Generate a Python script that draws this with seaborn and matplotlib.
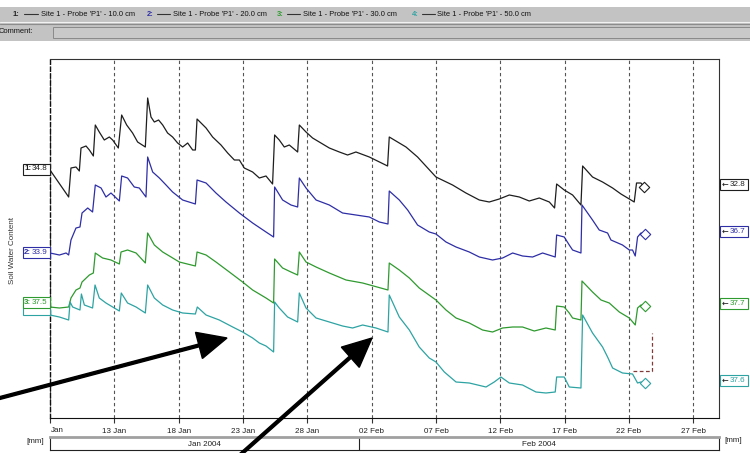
import numpy as np
import pandas as pd
import matplotlib
matplotlib.use("Agg")
import matplotlib.pyplot as plt
import matplotlib.dates as mdates
from matplotlib.patches import Rectangle, FancyArrow
from matplotlib.lines import Line2D
from matplotlib.transforms import IdentityTransform
import seaborn as sns

# ------------------------------------------------------------------ data
START = pd.Timestamp("2004-01-01")          # day 0

series_names = ["Site 1 - Probe 'P1' - 10.0 cm", "Site 1 - Probe 'P1' - 20.0 cm",
                "Site 1 - Probe 'P1' - 30.0 cm", "Site 1 - Probe 'P1' - 50.0 cm"]

# day offsets from START and display levels (relative chart units)
t1 = [7.00, 8.45, 8.63, 9.02, 9.28, 9.41, 9.80, 10.06, 10.37, 10.52, 10.83, 11.22, 11.61, 11.87,
      12.31, 12.57, 12.96, 13.42, 13.81, 14.41, 14.59, 14.85, 15.11, 15.44, 15.76, 16.14, 16.53,
      16.92, 17.31, 17.70, 18.09, 18.30, 18.43, 19.13, 19.64, 20.29, 20.81, 21.33, 21.72, 22.10,
      22.75, 23.27, 23.79, 24.30, 24.46, 24.82, 25.21, 25.60, 26.25, 26.38, 26.90, 27.41, 28.19,
      28.71, 29.49, 30.13, 30.78, 31.82, 33.24, 33.37, 34.67, 35.57, 37.00, 38.29, 39.33, 40.37,
      41.14, 41.92, 42.70, 43.48, 44.25, 45.03, 45.81, 46.22, 46.38, 46.97, 47.62, 48.27, 48.40,
      49.17, 49.95, 50.73, 51.38, 52.03, 52.41, 52.59, 52.93, 53.19]
v1 = [248, 221, 250, 251, 247, 270, 272, 268, 262, 293, 286, 278, 281, 278, 270, 303, 293, 285,
      276, 271, 320, 301, 296, 298, 293, 285, 281, 275, 271, 275, 268, 268, 299, 290, 281, 273,
      265, 258, 258, 250, 246, 240, 242, 234, 283, 278, 271, 273, 266, 293, 286, 280, 274, 270,
      266, 263, 266, 261, 252, 281, 271, 261, 241, 233, 225, 218, 216, 219, 223, 221, 217, 220,
      216, 210, 234, 228, 223, 213, 252, 241, 236, 230, 224, 219, 216, 235, 235, 231]

t2 = [7.00, 7.73, 8.25, 8.45, 8.63, 9.02, 9.33, 9.49, 9.93, 10.31, 10.52, 10.97, 11.35, 11.74,
      12.39, 12.57, 13.03, 13.55, 13.94, 14.46, 14.59, 14.98, 15.50, 16.02, 16.53, 17.31, 18.30,
      18.43, 19.13, 19.90, 20.68, 21.72, 22.75, 23.79, 24.38, 24.46, 25.08, 25.73, 26.25, 26.38,
      26.90, 27.68, 28.71, 29.74, 30.78, 31.82, 32.60, 33.27, 33.37, 34.15, 34.80, 35.57, 36.48,
      37.00, 37.78, 38.56, 39.59, 40.37, 41.40, 42.18, 42.96, 43.73, 44.51, 45.29, 46.27, 46.38,
      46.97, 47.36, 47.62, 48.27, 48.35, 49.17, 49.69, 50.34, 50.60, 51.50, 52.03, 52.28, 52.49,
      52.67, 52.93, 53.27]
v2 = [165, 163, 165, 163, 178, 190, 191, 205, 210, 206, 233, 230, 221, 225, 217, 242, 240, 231,
      230, 221, 261, 246, 240, 233, 226, 218, 214, 238, 235, 225, 216, 205, 195, 186, 181, 231,
      218, 213, 211, 240, 230, 218, 213, 205, 203, 201, 196, 194, 227, 218, 208, 193, 186, 184,
      176, 171, 166, 161, 158, 160, 165, 162, 161, 165, 161, 183, 181, 173, 168, 165, 213, 198,
      188, 185, 178, 173, 168, 168, 162, 181, 185, 184]

t3 = [7.00, 7.73, 8.45, 8.63, 9.02, 9.33, 9.49, 10.06, 10.37, 10.52, 11.09, 11.74, 12.39, 12.52,
      13.03, 13.69, 14.41, 14.59, 15.11, 15.76, 16.41, 17.05, 18.30, 18.43, 19.13, 19.90, 20.94,
      21.97, 22.75, 23.79, 24.38, 24.46, 25.08, 25.73, 26.25, 26.38, 26.90, 27.68, 28.71, 30.01,
      31.30, 33.27, 33.37, 34.15, 34.93, 35.70, 37.00, 37.78, 38.56, 39.59, 40.62, 41.40, 42.18,
      42.96, 43.73, 44.64, 45.55, 46.27, 46.38, 46.97, 47.36, 47.62, 48.27, 48.35, 49.17, 49.83,
      50.47, 51.25, 52.03, 52.49, 52.67, 52.93, 53.27]
v3 = [111, 110, 111, 120, 128, 130, 136, 143, 145, 165, 160, 158, 154, 166, 168, 165, 155, 185,
      173, 166, 161, 156, 152, 166, 163, 156, 146, 136, 128, 120, 115, 159, 150, 146, 143, 166,
      156, 151, 145, 138, 135, 128, 155, 148, 140, 130, 118, 108, 100, 95, 88, 86, 90, 91, 91,
      87, 90, 88, 112, 111, 105, 100, 98, 137, 126, 118, 115, 106, 100, 93, 110, 113, 112]

t4 = [7.00, 7.73, 8.45, 8.56, 8.76, 9.33, 9.44, 9.67, 10.31, 10.50, 10.83, 11.35, 12.39, 12.54,
      13.03, 13.69, 14.41, 14.59, 15.11, 15.76, 16.53, 17.31, 18.30, 18.45, 19.13, 20.16, 21.20,
      21.97, 22.75, 23.27, 23.79, 24.38, 24.46, 24.82, 25.47, 26.25, 26.38, 26.90, 27.68, 28.71,
      29.74, 30.52, 31.30, 32.34, 33.27, 33.37, 34.15, 34.93, 35.70, 36.48, 37.00, 37.65, 38.56,
      39.59, 40.89, 41.53, 42.05, 42.70, 43.73, 44.77, 45.55, 46.27, 46.38, 46.97, 47.36, 48.27,
      48.40, 49.17, 49.95, 50.34, 50.73, 51.50, 52.28, 52.67, 52.93, 53.27]
v4 = [103, 101, 98, 116, 111, 108, 124, 113, 110, 133, 120, 115, 107, 125, 115, 111, 105, 133,
      120, 113, 108, 105, 104, 111, 103, 98, 91, 86, 80, 75, 72, 66, 116, 110, 101, 96, 125, 110,
      100, 96, 92, 90, 93, 90, 86, 123, 101, 88, 71, 60, 56, 46, 36, 35, 31, 36, 41, 35, 33, 26,
      25, 26, 41, 41, 31, 30, 103, 85, 71, 61, 50, 45, 44, 35, 36, 35]

start_labels = ["34.8", "33.9", "37.5", ""]
end_labels = ["32.8", "36.7", "37.7", "37.6"]

bracket_t = [52.34, 53.81, 53.81]
bracket_v = [47, 47, 85]

tick_days = [7, 12, 17, 22, 27, 32, 37, 42, 47, 52, 57]
tick_labels = ["", "13 Jan", "18 Jan", "23 Jan", "28 Jan", "02 Feb", "07 Feb",
               "12 Feb", "17 Feb", "22 Feb", "27 Feb"]
first_tick_label = "Jan"
month_edges = [7, 31, 59]
month_labels = ["Jan 2004", "Feb 2004"]

# ------------------------------------------------------------------ style
colors = ["#1e1e1e", "#2e2ea6", "#2f9a2f", "#2ea3a3"]
W, H = 750, 453
FS = 5.8
FS_LEG = 5.4

sns.set_style("white")
plt.rcParams["font.family"] = ["Liberation Sans", "DejaVu Sans"]
plt.rcParams["axes.linewidth"] = 0.8

IT = IdentityTransform()


def to_dates(days):
    return START + pd.to_timedelta(np.asarray(days, dtype=float), unit="D")


fig = plt.figure(figsize=(W / 100, H / 100), dpi=100)
fig.patch.set_facecolor("white")

ax = fig.add_axes([50 / W, (H - 418) / H, 669 / W, 359 / H])
ax_b = fig.add_axes([50 / W, (H - 450) / H, 669 / W, 13 / H], sharex=ax)

all_t = [t1, t2, t3, t4]
all_v = [v1, v2, v3, v4]
for t, v, c in zip(all_t, all_v, colors):
    df = pd.DataFrame({"date": to_dates(t), "value": v})
    sns.lineplot(data=df, x="date", y="value", color=c, lw=0.9, ax=ax,
                 estimator=None, sort=False)
    sns.scatterplot(x=df["date"].iloc[-1:], y=df["value"].iloc[-1:], marker="D", s=28,
                    color="white", edgecolor=c, linewidth=0.8, ax=ax, zorder=5)

ax.plot(to_dates(bracket_t), bracket_v, color="#803a3a", lw=0.9, ls=(0, (3, 2)))

ax.set_xlim(to_dates([month_edges[0]])[0], to_dates([month_edges[-1]])[0])
ax.set_ylim(0, 359)
ax.set_yticks([])
ax.set_xlabel("")
ax.set_ylabel("")
ax.set_xticks(to_dates(tick_days))
ax.set_xticklabels(tick_labels, fontsize=FS, color="#202020")
ax.tick_params(axis="x", length=3.5, width=0.8, color="#333333", pad=3.5, bottom=True)
ax.grid(axis="x", color="#555555", linestyle=(0, (3, 2.5)), lw=0.8)
ax.spines["left"].set_linestyle((0, (3, 2)))
ax.spines["left"].set_color("#111111")
ax.spines["left"].set_linewidth(1.0)
ax.spines["top"].set_color("#333333")
ax.spines["right"].set_color("#333333")
ax.spines["bottom"].set_color("#111111")
ax.set_facecolor("white")

# month band
ax_b.set_ylim(0, 1)
ax_b.tick_params(axis="both", which="both", bottom=False, labelbottom=False,
                 left=False, labelleft=False, top=False, right=False)
ax_b.grid(False)
ax_b.spines["top"].set_color("#a0a0a0")
ax_b.spines["top"].set_linewidth(2.0)
for s in ["left", "right", "bottom"]:
    ax_b.spines[s].set_color("#222222")
    ax_b.spines[s].set_linewidth(0.8)
mid_dates = to_dates(month_edges)
ax_b.axvline(mid_dates[1], color="#222222", lw=0.8)
for i, lab in enumerate(month_labels):
    m = mid_dates[i] + (mid_dates[i + 1] - mid_dates[i]) / 2
    ax_b.text(m, 0.45, lab, ha="center", va="center", fontsize=FS, color="#202020")

# first (clipped) tick label
fig.text(51, H - 431, first_tick_label, ha="left", va="center", fontsize=FS,
         color="#202020", transform=IT)

# axis texts
fig.text(13, H - 250, "Soil Water Content", rotation=90, ha="center", va="center",
         fontsize=FS, color="#333333", transform=IT)
fig.text(35, H - 441.5, "[mm]", ha="center", va="center", fontsize=FS, color="#202020", transform=IT)
fig.text(733, H - 440, "[mm]", ha="center", va="center", fontsize=FS, color="#202020", transform=IT)

fig.canvas.draw()


def disp_y(day, val):
    return ax.transData.transform((mdates.date2num(to_dates([day])[0]), val))[1]


# left start-value boxes (drawn back to front so the 4th sits beneath the 3rd)
left_dy = [1, 1, 5, 6]
for i in [3, 2, 1, 0]:
    yc = disp_y(all_t[i][0], all_v[i][0]) + left_dy[i]
    fig.add_artist(Rectangle((22.5, yc - 5.5), 27.5, 11, facecolor="white",
                             edgecolor=colors[i], lw=0.8, transform=IT, zorder=3))
    if start_labels[i]:
        fig.text(24, yc, f"{i + 1}:", ha="left", va="center", fontsize=FS, weight="bold",
                 color=colors[i], transform=IT, zorder=4)
        fig.text(31.5, yc, start_labels[i], ha="left", va="center", fontsize=FS,
                 color=colors[i], transform=IT, zorder=4)

# right end-value boxes
for i in range(4):
    yc = disp_y(all_t[i][-1], all_v[i][-1]) + 2.5
    fig.add_artist(Rectangle((720, yc - 5.5), 27.5, 11, facecolor="white",
                             edgecolor=colors[i], lw=0.8, transform=IT, zorder=3))
    fig.text(721.5, yc, "\u2190", ha="left", va="center", fontsize=FS, color="#111111",
             transform=IT, zorder=4, family=["DejaVu Sans"])
    fig.text(730, yc, end_labels[i], ha="left", va="center", fontsize=FS,
             color=colors[i], transform=IT, zorder=4)

# ------------------------------------------------------------------ top toolbar
fig.add_artist(Rectangle((0, H - 40.5), W, 34, facecolor="#c3c3c3", edgecolor="none",
                         transform=IT, zorder=2))
fig.add_artist(Line2D([0, W], [H - 22, H - 22], color="#f2f2f2", lw=0.8, transform=IT, zorder=3))
fig.add_artist(Line2D([0, W], [H - 23.5, H - 23.5], color="#8c8c8c", lw=0.8, transform=IT, zorder=3))
fig.add_artist(Rectangle((53, H - 37.5), W - 53, 11, facecolor="#c9c9c9", edgecolor="#8a8a8a",
                         lw=0.7, transform=IT, zorder=3))
fig.text(-1, H - 31.5, "Comment:", ha="left", va="center", fontsize=FS_LEG, color="#111111",
         transform=IT, zorder=4)

legend_pos = [(13, 24, 38, 41), (147, 157, 170, 173), (277, 287, 300, 303), (412, 422, 435, 437)]
for i, (nx, lx0, lx1, tx) in enumerate(legend_pos):
    fig.text(nx, H - 14, f"{i + 1}:", ha="left", va="center", fontsize=FS_LEG, weight="bold",
             color=colors[i], transform=IT, zorder=4)
    fig.add_artist(Line2D([lx0, lx1], [H - 14, H - 14], color="#333333", lw=0.8,
                          transform=IT, zorder=4))
    fig.text(tx, H - 14, series_names[i], ha="left", va="center", fontsize=FS_LEG,
             color="#111111", transform=IT, zorder=4)

# ------------------------------------------------------------------ annotation arrows
fig.add_artist(FancyArrow(-2, H - 398.5, 229, 60.5, width=2.8, head_width=27, head_length=29,
                          length_includes_head=True, color="black", transform=IT, zorder=10))
fig.add_artist(FancyArrow(240, -2, 132, 117, width=2.8, head_width=27, head_length=29,
                          length_includes_head=True, color="black", transform=IT, zorder=10))

fig.savefig("out.png", dpi=100)
